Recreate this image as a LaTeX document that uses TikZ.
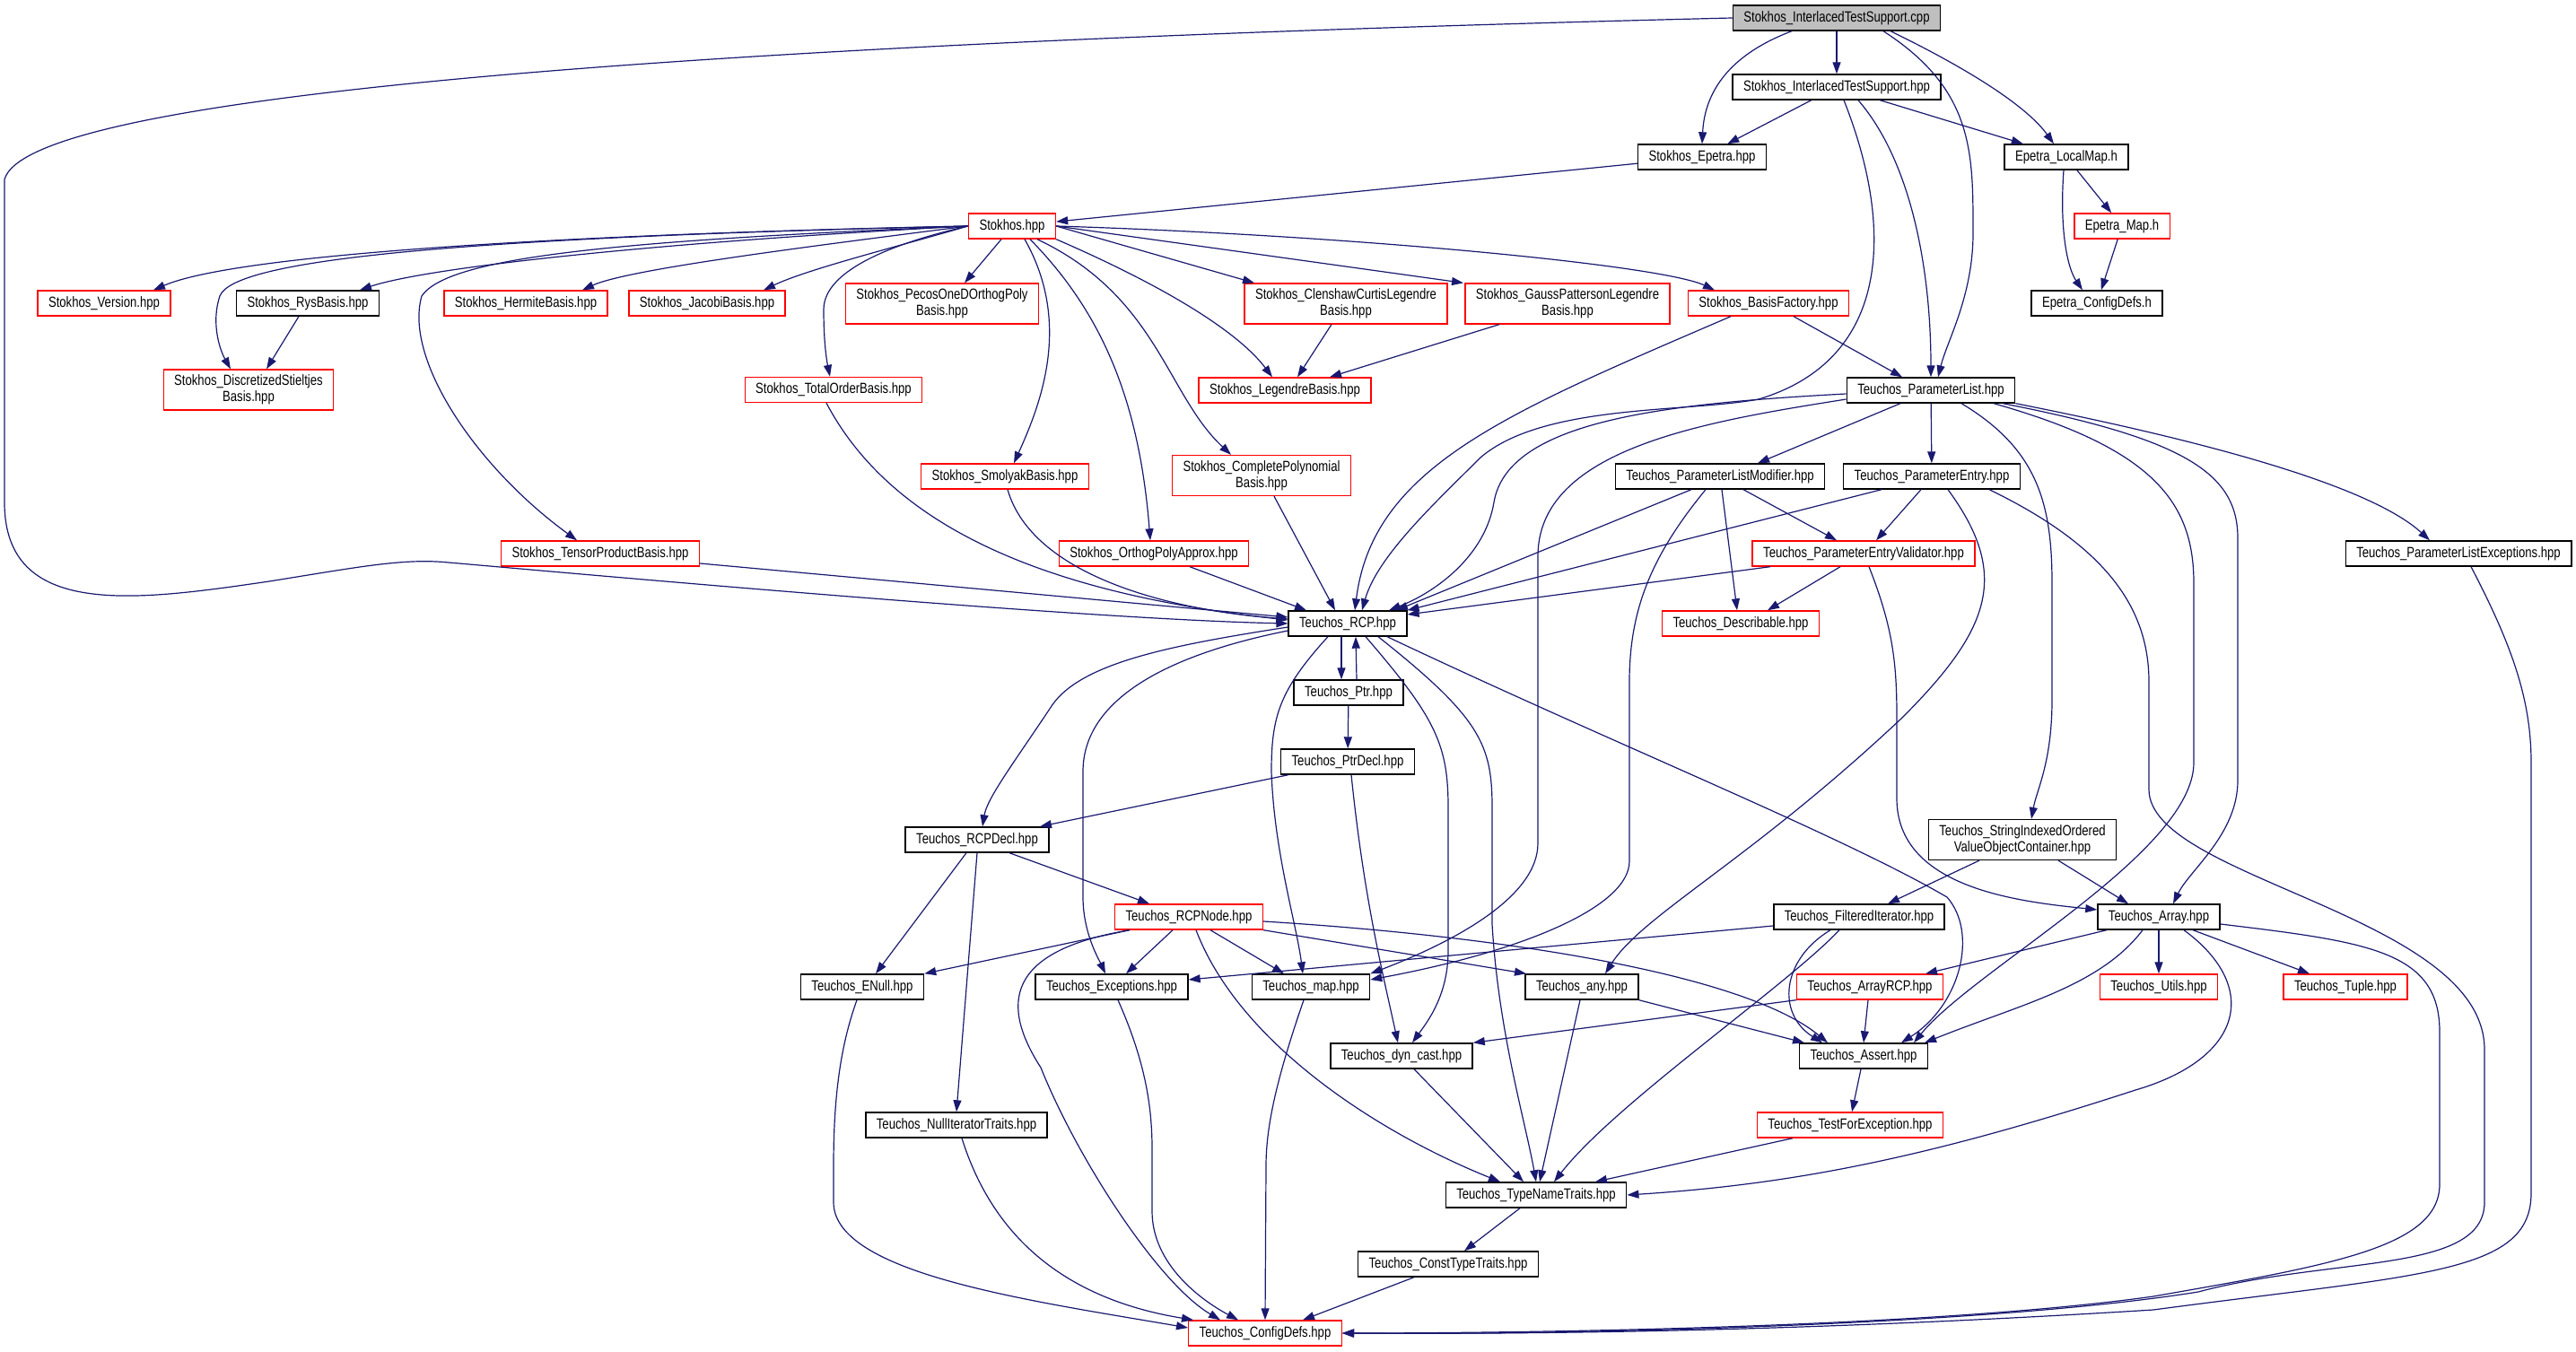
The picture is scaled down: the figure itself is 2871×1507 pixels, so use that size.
\documentclass[tikz,border=0pt]{standalone}
\usepackage{fontspec}
\usetikzlibrary{arrows.meta}
\newfontfamily\filefont{Liberation Sans}[FakeStretch=0.80]
\definecolor{edgeblue}{HTML}{191970}
\definecolor{rootgray}{HTML}{BFBFBF}
\tikzset{file/.style = {draw=black, fill=white, line width=0.7pt, inner xsep=6pt, inner ysep=2.9pt,
    minimum height=14pt, align=center, font=\filefont\fontsize{8.2pt}{9pt}\selectfont}}
\tikzset{trunc/.style = {file, draw=red}}
\tikzset{root/.style = {file, fill=rootgray}}
\tikzset{dep/.style = {edgeblue, line width=0.6pt, -{Triangle[length=6.5pt, width=4.5pt]}}}

\begin{document}
\begin{tikzpicture}[x=0.5pt, y=-0.5pt]
      \useasboundingbox (0,0) rectangle (2871,1507);

      \node [root]  (cpp)        at (2047,20)    {Stokhos\_InterlacedTestSupport.cpp};
      \node [file]  (its)        at (2047,97)    {Stokhos\_InterlacedTestSupport.hpp};
      \node [file]  (sepetra)    at (1897,175)   {Stokhos\_Epetra.hpp};
      \node [file]  (localmap)   at (2303,175)   {Epetra\_LocalMap.h};
      \node [trunc] (stokhos)    at (1128,252)   {Stokhos.hpp};
      \node [trunc] (emap)       at (2365,252)   {Epetra\_Map.h};
      \node [trunc] (version)    at (116,338)    {Stokhos\_Version.hpp};
      \node [file]  (rys)        at (343,338)    {Stokhos\_RysBasis.hpp};
      \node [trunc] (hermite)    at (586,338)    {Stokhos\_HermiteBasis.hpp};
      \node [trunc] (jacobi)     at (788,338)    {Stokhos\_JacobiBasis.hpp};
      \node [trunc] (pecos)      at (1050,338.5) {Stokhos\_PecosOneDOrthogPoly\\Basis.hpp};
      \node [trunc] (clenshaw)   at (1500,338.5) {Stokhos\_ClenshawCurtisLegendre\\Basis.hpp};
      \node [trunc] (gauss)      at (1747,338.5) {Stokhos\_GaussPattersonLegendre\\Basis.hpp};
      \node [trunc] (factory)    at (1971,338)   {Stokhos\_BasisFactory.hpp};
      \node [file]  (econfig)    at (2337,338)   {Epetra\_ConfigDefs.h};
      \node [trunc] (stieltjes)  at (277,434.5)  {Stokhos\_DiscretizedStieltjes\\Basis.hpp};
      \node [trunc] (totalorder) at (929,434.5)  {Stokhos\_TotalOrderBasis.hpp};
      \node [trunc] (legendre)   at (1432,435)   {Stokhos\_LegendreBasis.hpp};
      \node [file]  (plist)      at (2152,435)   {Teuchos\_ParameterList.hpp};
      \node [trunc] (smolyak)    at (1120,531)   {Stokhos\_SmolyakBasis.hpp};
      \node [trunc] (complete)   at (1406,530)   {Stokhos\_CompletePolynomial\\Basis.hpp};
      \node [file]  (plmod)      at (1917,531)   {Teuchos\_ParameterListModifier.hpp};
      \node [file]  (pentry)     at (2153,531)   {Teuchos\_ParameterEntry.hpp};
      \node [trunc] (tensor)     at (669,617)    {Stokhos\_TensorProductBasis.hpp};
      \node [trunc] (orthog)     at (1286,617)   {Stokhos\_OrthogPolyApprox.hpp};
      \node [trunc] (validator)  at (2077,617)   {Teuchos\_ParameterEntryValidator.hpp};
      \node [file]  (plexc)      at (2740,617)   {Teuchos\_ParameterListExceptions.hpp};
      \node [file]  (rcp)        at (1502,695)   {Teuchos\_RCP.hpp};
      \node [trunc] (describ)    at (1940,695)   {Teuchos\_Describable.hpp};
      \node [file]  (ptr)        at (1503,772)   {Teuchos\_Ptr.hpp};
      \node [file]  (ptrdecl)    at (1502,849)   {Teuchos\_PtrDecl.hpp};
      \node [file]  (rcpdecl)    at (1089,936)   {Teuchos\_RCPDecl.hpp};
      \node [file]  (sioc)       at (2254,936)   {Teuchos\_StringIndexedOrdered\\ValueObjectContainer.hpp};
      \node [trunc] (rcpnode)    at (1325,1022)  {Teuchos\_RCPNode.hpp};
      \node [file]  (filtered)   at (2072,1022)  {Teuchos\_FilteredIterator.hpp};
      \node [file]  (array)      at (2406,1022)  {Teuchos\_Array.hpp};
      \node [file]  (enull)      at (961,1100)   {Teuchos\_ENull.hpp};
      \node [file]  (exceptions) at (1239,1100)  {Teuchos\_Exceptions.hpp};
      \node [file]  (tmap)       at (1461,1100)  {Teuchos\_map.hpp};
      \node [file]  (any)        at (1763,1100)  {Teuchos\_any.hpp};
      \node [trunc] (arrayrcp)   at (2084,1100)  {Teuchos\_ArrayRCP.hpp};
      \node [trunc] (utils)      at (2406,1100)  {Teuchos\_Utils.hpp};
      \node [trunc] (tuple)      at (2614,1100)  {Teuchos\_Tuple.hpp};
      \node [file]  (dyncast)    at (1562,1177)  {Teuchos\_dyn\_cast.hpp};
      \node [file]  (assert)     at (2077,1177)  {Teuchos\_Assert.hpp};
      \node [file]  (nulliter)   at (1066,1254)  {Teuchos\_NullIteratorTraits.hpp};
      \node [trunc] (testexc)    at (2062,1254)  {Teuchos\_TestForException.hpp};
      \node [file]  (typename)   at (1712,1332)  {Teuchos\_TypeNameTraits.hpp};
      \node [file]  (consttype)  at (1614,1409)  {Teuchos\_ConstTypeTraits.hpp};
      \node [trunc] (tconfig)    at (1410,1486)  {Teuchos\_ConfigDefs.hpp};

      \draw [dep] (cpp.west) .. controls (700,50) and (30,110) .. (5,200) -- (5,560)
        .. controls (5,690) and (150,670) .. (300,648) .. controls (400,632) and (450,622) .. (500,627)
        .. controls (650,640) and (1200,690) .. (rcp.west);
      \draw [dep] ([xshift=-25pt]cpp.south) .. controls (1930,60) and (1900,100) .. (sepetra.north);
      \draw [dep] (cpp) -- (its);
      \draw [dep] ([xshift=26pt]cpp.south) .. controls (2200,100) and (2199,170) .. (2199,260)
        .. controls (2199,330) and (2170,380) .. ([xshift=4pt]plist.north);
      \draw [dep] ([xshift=30pt]cpp.south) .. controls (2200,80) and (2260,120) .. ([xshift=-7pt]localmap.north);
      \draw [dep] (its) -- (sepetra);
      \draw [dep] (its) -- (localmap);
      \draw [dep] ([xshift=12pt]its.south) .. controls (2130,180) and (2152,300) .. (plist.north);
      \draw [dep] ([xshift=4pt]its.south) .. controls (2110,250) and (2110,400) .. (1960,445)
        .. controls (1880,460) and (1720,450) .. (1650,510) .. controls (1600,560) and (1535,620) .. ([xshift=8pt]rcp.north);
      \draw [dep] (sepetra) -- (stokhos);
      \draw [dep] (localmap) -- (emap);
      \draw [dep] ([xshift=-1.5pt]localmap.south) .. controls (2295,260) and (2305,300) .. ([xshift=-8pt]econfig.north);
      \draw [dep] (emap) -- (econfig);

      \draw [dep] (stokhos.west) .. controls (600,262) and (260,285) .. ([xshift=27.5pt]version.north);
      \draw [dep] (stokhos.west) .. controls (500,265) and (260,290) .. (245,330)
        .. controls (235,360) and (245,390) .. ([xshift=-10pt]stieltjes.north);
      \draw [dep] (stokhos.west) .. controls (700,272) and (470,300) .. ([xshift=29pt]rys.north);
      \draw [dep] (stokhos.west) .. controls (700,268) and (500,285) .. (470,330)
        .. controls (450,400) and (530,520) .. ([xshift=-13pt]tensor.north);
      \draw [dep] (stokhos.west) .. controls (900,275) and (700,300) .. ([xshift=31.5pt]hermite.north);
      \draw [dep] (stokhos.west) .. controls (1000,275) and (900,300) .. ([xshift=31.5pt]jacobi.north);
      \draw [dep] (stokhos.west) .. controls (1000,270) and (918,300) .. (918,345)
        .. controls (918,380) and (921,400) .. ([xshift=-2pt]totalorder.north);
      \draw [dep] ([xshift=-6pt]stokhos.south) -- ([xshift=12.5pt]pecos.north);
      \draw [dep] ([xshift=7pt]stokhos.south) .. controls (1195,360) and (1160,450) .. ([xshift=5pt]smolyak.north);
      \draw [dep] ([xshift=10pt]stokhos.south) .. controls (1230,350) and (1270,450) .. ([xshift=-2pt]orthog.north);
      \draw [dep] ([xshift=14pt]stokhos.south) .. controls (1290,330) and (1300,440) .. ([xshift=-17pt]complete.north);
      \draw [dep] (stokhos.south east) .. controls (1300,320) and (1380,370) .. ([xshift=-7pt]legendre.north);
      \draw [dep] (stokhos.east) -- ([xshift=-51pt]clenshaw.north);
      \draw [dep] (stokhos.east) -- ([xshift=-58pt]gauss.north);
      \draw [dep] (stokhos.east) .. controls (1500,262) and (1850,295) .. ([xshift=-30pt]factory.north);

      \draw [dep] ([xshift=-5pt]rys.south) -- ([xshift=10pt]stieltjes.north);
      \draw [dep] ([xshift=-8pt]clenshaw.south) -- ([xshift=7pt]legendre.north);
      \draw [dep] ([xshift=-38pt]gauss.south) -- ([xshift=25pt]legendre.north);
      \draw [dep] ([xshift=14pt]factory.south) -- ([xshift=-16pt]plist.north);
      \draw [dep] ([xshift=-21pt]factory.south) .. controls (1680,460) and (1530,520) .. ([xshift=4pt]rcp.north);

      \draw [dep] ([yshift=-5.5pt]tensor.east) -- ([yshift=3.5pt]rcp.west);
      \draw [dep] ([xshift=-4pt]totalorder.south) .. controls (990,580) and (1150,660) .. ([yshift=2pt]rcp.west);
      \draw [dep] ([xshift=1.5pt]smolyak.south) .. controls (1150,640) and (1300,680) .. ([yshift=2.5pt]rcp.west);
      \draw [dep] ([xshift=20pt]orthog.south) -- ([xshift=-23pt]rcp.north);
      \draw [dep] ([xshift=7pt]complete.south) -- ([xshift=-7pt]rcp.north);

      \draw [dep] ([yshift=-2pt]plist.west) .. controls (1850,450) and (1680,470) .. (1665,560)
        .. controls (1655,620) and (1600,660) .. ([xshift=23pt]rcp.north);
      \draw [dep] ([yshift=-5pt]plist.west) .. controls (1900,470) and (1714,500) .. (1714,620) -- (1714,940)
        .. controls (1714,1000) and (1620,1050) .. (tmap.north east);
      \draw [dep] ([xshift=-17pt]plist.south) -- ([xshift=21pt]plmod.north);
      \draw [dep] (plist) -- (pentry);
      \draw [dep] ([xshift=17pt]plist.south) .. controls (2270,500) and (2287,560) .. (2287,650) -- (2287,780)
        .. controls (2287,850) and (2270,880) .. ([xshift=5pt]sioc.north);
      \draw [dep] ([xshift=40pt]plist.south) .. controls (2440,490) and (2494,530) .. (2494,600) -- (2494,870)
        .. controls (2494,930) and (2440,970) .. ([xshift=8pt]array.north);
      \draw [dep] (plist.south east) .. controls (2450,490) and (2640,540) .. ([xshift=-16pt]plexc.north);
      \draw [dep] ([xshift=35pt]plist.south) .. controls (2400,500) and (2445,560) .. (2445,650) -- (2445,850)
        .. controls (2445,950) and (2200,1080) .. ([xshift=28pt]assert.north);

      \draw [dep] ([xshift=-16pt]plmod.south) -- ([xshift=27pt]rcp.north);
      \draw [dep] ([xshift=-28pt]pentry.south) -- (rcp.north east);
      \draw [dep] ([xshift=-52pt]validator.south) -- ([yshift=5pt]rcp.east);
      \draw [dep] ([xshift=-8pt]plmod.south) .. controls (1840,620) and (1816,680) .. (1816,760) -- (1816,960)
        .. controls (1816,1010) and (1700,1060) .. ([yshift=4pt]tmap.east);
      \draw [dep] ([xshift=1pt]plmod.south) -- ([xshift=-2pt]describ.north);
      \draw [dep] ([xshift=13pt]plmod.south) -- ([xshift=-15pt]validator.north);
      \draw [dep] ([xshift=-6pt]pentry.south) -- ([xshift=7pt]validator.north);
      \draw [dep] ([xshift=-13pt]validator.south) -- ([xshift=15pt]describ.north);
      \draw [dep] ([xshift=3pt]validator.south) .. controls (2110,700) and (2114,740) .. (2114,800) -- (2114,890)
        .. controls (2114,990) and (2250,1005) .. ([yshift=4pt]array.west);
      \draw [dep] ([xshift=9pt]pentry.south) .. controls (2240,640) and (2220,700) .. (2120,800)
        .. controls (1950,960) and (1830,1020) .. ([xshift=13pt]any.north);
      \draw [dep] ([xshift=32pt]pentry.south) .. controls (2350,610) and (2395,680) .. (2395,760) -- (2395,880)
        .. controls (2395,980) and (2769,1020) .. (2769,1170) -- (2769,1340)
        .. controls (2769,1420) and (2600,1400) .. (2450,1440) .. controls (2200,1480) and (1700,1488) .. (tconfig.east);
      \draw [dep] ([yshift=-4pt]array.east) .. controls (2640,1050) and (2719,1060) .. (2719,1150) -- (2719,1320)
        .. controls (2719,1390) and (2600,1410) .. (2400,1445) .. controls (2150,1480) and (1700,1486) .. (tconfig.east);
      \draw [dep] ([xshift=7pt]plexc.south) .. controls (2800,720) and (2821,780) .. (2821,850) -- (2821,1330)
        .. controls (2821,1420) and (2700,1420) .. (2400,1460) .. controls (2000,1485) and (1700,1487) .. (tconfig.east);

      \draw [dep] ([xshift=22pt]rcp.south) .. controls (1800,830) and (2050,930) .. (2170,1000)
        .. controls (2205,1040) and (2185,1120) .. ([xshift=21pt]assert.north);
      \draw [dep] ([yshift=-2pt]rcp.west) .. controls (1300,720) and (1200,740) .. (1170,790)
        .. controls (1130,850) and (1100,890) .. ([xshift=3pt]rcpdecl.north);
      \draw [dep] ([yshift=-4pt]rcp.west) .. controls (1300,730) and (1207,780) .. (1207,860) -- (1207,1000)
        .. controls (1207,1040) and (1225,1070) .. ([xshift=-3.5pt]exceptions.north);
      \draw [dep] ([xshift=-11pt]rcp.south) .. controls (1425,770) and (1417,800) .. (1417,860)
        .. controls (1420,950) and (1445,1030) .. ([xshift=-4.5pt]tmap.north);
      \draw [dep] ([xshift=-3.5pt]rcp.south) -- ([xshift=-4pt]ptr.north);
      \draw [dep] ([xshift=4.5pt]ptr.north) -- ([xshift=4.5pt]rcp.south);
      \draw [dep] (ptr) -- (ptrdecl);
      \draw [dep] ([xshift=-33pt]ptrdecl.south) -- ([xshift=35pt]rcpdecl.north);
      \draw [dep] ([xshift=2pt]ptrdecl.south) .. controls (1520,1000) and (1540,1080) .. ([xshift=-2pt]dyncast.north);
      \draw [dep] ([xshift=10pt]rcp.south) .. controls (1600,800) and (1614,830) .. (1614,900) -- (1614,1060)
        .. controls (1614,1110) and (1590,1140) .. ([xshift=6pt]dyncast.north);
      \draw [dep] ([xshift=17pt]rcp.south) .. controls (1650,800) and (1663,830) .. (1663,900) -- (1663,1030)
        .. controls (1670,1150) and (1700,1250) .. (typename.north);

      \draw [dep] ([xshift=18pt]rcpdecl.south) -- ([xshift=-22pt]rcpnode.north);
      \draw [dep] ([xshift=-6pt]rcpdecl.south) -- ([xshift=7.5pt]enull.north);
      \draw [dep] (rcpdecl.south) -- (nulliter.north);
      \draw [dep] ([xshift=-24pt]sioc.south) -- ([xshift=16pt]filtered.north);
      \draw [dep] ([xshift=20pt]sioc.south) -- ([xshift=-17pt]array.north);
      \draw [dep] ([xshift=-33pt]rcpnode.south) -- (enull.north east);
      \draw [dep] ([xshift=-9pt]rcpnode.south) -- ([xshift=8pt]exceptions.north);
      \draw [dep] ([xshift=12pt]rcpnode.south) -- ([xshift=-15pt]tmap.north);
      \draw [dep] (rcpnode.south east) -- ([xshift=-31pt]any.north);
      \draw [dep] ([yshift=-2.5pt]rcpnode.east) .. controls (1700,1045) and (1950,1090) .. ([xshift=-20pt]assert.north);
      \draw [dep] ([xshift=4pt]rcpnode.south) .. controls (1380,1160) and (1530,1260) .. ([xshift=-20pt]typename.north);
      \draw [dep] ([xshift=-33pt]rcpnode.south) .. controls (1120,1060) and (1115,1120) .. (1160,1190)
        .. controls (1200,1290) and (1290,1430) .. ([xshift=-25pt]tconfig.north);
      \draw [dep] ([xshift=3.5pt]exceptions.south) .. controls (1275,1180) and (1284,1230) .. (1284,1280) -- (1284,1350)
        .. controls (1284,1410) and (1340,1450) .. ([xshift=-15pt]tconfig.north);
      \draw [dep] ([xshift=-4pt]tmap.south) .. controls (1420,1210) and (1411,1260) .. (1411,1300) -- (tconfig.north);
      \draw [dep] ([xshift=-3pt]enull.south) .. controls (935,1170) and (929,1230) .. (929,1300) -- (929,1340)
        .. controls (929,1420) and (1150,1450) .. ([yshift=3pt]tconfig.west);
      \draw [dep] ([xshift=3pt]nulliter.south) .. controls (1110,1390) and (1200,1450) .. ([xshift=-40pt]tconfig.north);
      \draw [dep] ([xshift=-19pt]consttype.south) -- ([xshift=21pt]tconfig.north);
      \draw [dep] ([xshift=-9pt]typename.south) -- ([xshift=9pt]consttype.north);
      \draw [dep] ([xshift=7pt]dyncast.south) -- ([xshift=-7pt]typename.north);
      \draw [dep] ([xshift=-1pt]any.south) -- ([xshift=2pt]typename.north);
      \draw [dep] (any.south east) -- ([xshift=-33pt]assert.north);
      \draw [dep] ([xshift=-16pt]filtered.south) .. controls (1985,1070) and (1980,1130) .. ([xshift=-23pt]assert.north);
      \draw [dep] ([xshift=-11pt]filtered.south) .. controls (1990,1100) and (1800,1230) .. ([xshift=10pt]typename.north);
      \draw [dep] ([yshift=-5pt]filtered.west) -- ([yshift=4pt]exceptions.east);
      \draw [dep] ([xshift=-29pt]array.south) -- ([xshift=31pt]arrayrcp.north);
      \draw [dep] (array) -- (utils);
      \draw [dep] ([xshift=19pt]array.south) -- ([xshift=-20pt]tuple.north);
      \draw [dep] ([xshift=-9pt]array.south) .. controls (2340,1100) and (2250,1120) .. ([xshift=34pt]assert.north);
      \draw [dep] ([xshift=14pt]array.south) .. controls (2520,1100) and (2500,1180) .. (2380,1215)
        .. controls (2150,1290) and (2000,1320) .. (typename.east);
      \draw [dep] ([xshift=-1pt]arrayrcp.south) -- (assert.north);
      \draw [dep] (arrayrcp.south west) -- (dyncast.north east);
      \draw [dep] ([xshift=-1.5pt]assert.south) -- ([xshift=1pt]testexc.north);
      \draw [dep] ([xshift=-32pt]testexc.south) -- ([xshift=33pt]typename.north);
\end{tikzpicture}
\end{document}
